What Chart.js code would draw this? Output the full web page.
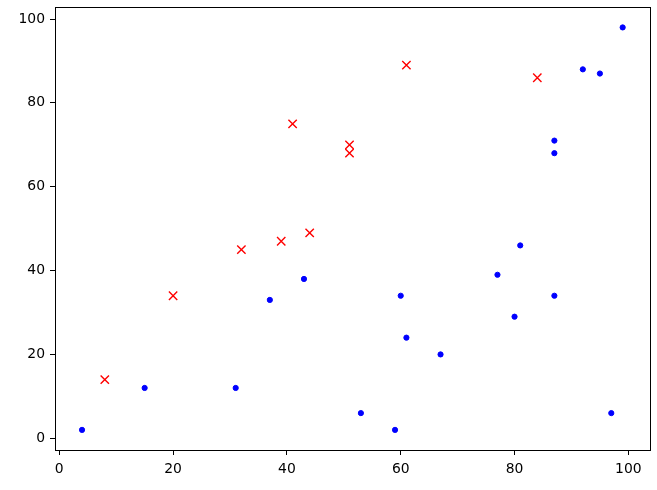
<!DOCTYPE html>
<html>
<head>
<meta charset="utf-8">
<script src="https://cdn.jsdelivr.net/npm/chart.js@4/dist/chart.umd.min.js"></script>
<style>
  html, body { margin: 0; padding: 0; background: #fff; }
  #wrap { width: 657px; height: 490px; }
</style>
</head>
<body>
<div id="wrap"><canvas id="chart" width="657" height="490"></canvas></div>
<script>
  // blue dots
  var blueX = [4, 15, 31, 37, 43, 53, 59, 60, 61, 67, 77, 80, 81, 87, 87, 87, 92, 95, 97, 99];
  var blueY = [2, 12, 12, 33, 38, 6, 2, 34, 24, 20, 39, 29, 46, 34, 68, 71, 88, 87, 6, 98];
  // red crosses
  var redX = [8, 20, 32, 39, 41, 44, 51, 51, 61, 84];
  var redY = [14, 34, 45, 47, 75, 49, 70, 68, 89, 86];

  var xTicks = [0, 20, 40, 60, 80, 100];
  var yTicks = [0, 20, 40, 60, 80, 100];

  function toPoints(xs, ys) {
    var pts = [];
    for (var i = 0; i < xs.length; i++) {
      pts.push({x: xs[i], y: ys[i]});
    }
    return pts;
  }

  // full box around the plot, like matplotlib spines
  var frame = {
    id: 'frame',
    afterDraw: function (chart) {
      var a = chart.chartArea, ctx = chart.ctx;
      ctx.save();
      ctx.strokeStyle = '#000';
      ctx.lineWidth = 1;
      ctx.strokeRect(Math.round(a.left) + 0.5, Math.round(a.top) + 0.5,
        Math.round(a.right - a.left), Math.round(a.bottom - a.top));
      ctx.restore();
    }
  };

  var font = {family: 'DejaVu Sans', size: 13.9};

  var ctx = document.getElementById('chart').getContext('2d');
  new Chart(ctx, {
    type: 'scatter',
    data: {
      datasets: [
        {
          data: toPoints(blueX, blueY),
          pointStyle: 'circle',
          pointRadius: 2.6,
          pointBorderWidth: 1,
          backgroundColor: '#0000ff',
          borderColor: '#0000ff'
        },
        {
          data: toPoints(redX, redY),
          pointStyle: 'crossRot',
          pointRadius: 5.9,
          pointBorderWidth: 1.4,
          backgroundColor: '#ff0000',
          borderColor: '#ff0000'
        }
      ]
    },
    options: {
      responsive: false,
      animation: false,
      layout: {padding: {top: 6, right: 6, left: 0, bottom: 0}},
      plugins: {legend: {display: false}, tooltip: {enabled: false}},
      scales: {
        x: {
          type: 'linear',
          min: -0.75,
          max: 103.75,
          afterBuildTicks: function (scale) {
            scale.ticks = xTicks.map(function (v) { return {value: v}; });
          },
          afterFit: function (scale) {
            scale.height = 40;
            scale.paddingLeft = 0;
            scale.paddingRight = 0;
          },
          grid: {drawOnChartArea: false, drawTicks: true, tickLength: 5, tickColor: '#000', tickWidth: 1},
          border: {display: true, color: '#000', width: 1},
          ticks: {color: '#000', font: font, padding: 6, maxRotation: 0}
        },
        y: {
          type: 'linear',
          min: -2.8,
          max: 102.8,
          afterBuildTicks: function (scale) {
            scale.ticks = yTicks.map(function (v) { return {value: v}; });
          },
          afterFit: function (scale) {
            scale.width = 55;
            scale.paddingTop = 0;
            scale.paddingBottom = 0;
          },
          grid: {drawOnChartArea: false, drawTicks: true, tickLength: 5, tickColor: '#000', tickWidth: 1},
          border: {display: true, color: '#000', width: 1},
          ticks: {color: '#000', font: font, padding: 5}
        }
      }
    },
    plugins: [frame]
  });
</script>
</body>
</html>
